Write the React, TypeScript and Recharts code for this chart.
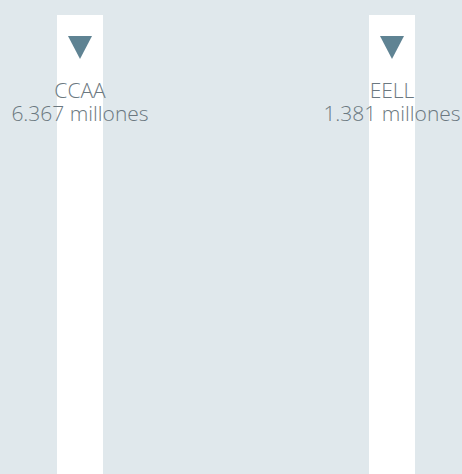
import React from 'react';
import { BarChart, Bar, XAxis, YAxis } from 'recharts';

const categories = ['CCAA', 'EELL'];
const values = [6367, 1381];
const valueLabels = ['6.367 millones', '1.381 millones'];

const data = categories.map((name, i) => ({ name, value: values[i] }));

const BG = '#e0e8ec';
const TRI = '#5f8393';
const TXT = '#6b7880';

const renderTick = (props: any) => {
  const { x, y, payload } = props;
  const i = categories.indexOf(payload.value);
  return (
    <g>
      <polygon points={`${x - 12},${y + 21} ${x + 12},${y + 21} ${x},${y + 44}`} fill={TRI} />
      <text x={x} y={y + 82.5} textAnchor="middle" fill={TXT} fontSize={21} fontWeight={300} fontFamily="'Open Sans', sans-serif">
        <tspan x={x} dy={0}>{payload.value}</tspan>
        <tspan x={x} dy={23.5}>{valueLabels[i]}</tspan>
      </text>
    </g>
  );
};

export default function App() {
  return (
    <div style={{ position: 'absolute', left: 0, top: 0, width: 462, height: 474, background: BG }}>
      <BarChart width={462} height={474} data={data} margin={{ top: 0, right: -86, left: -76, bottom: 0 }} barSize={46}>
        <XAxis dataKey="name" orientation="top" height={15} axisLine={false} tickLine={false} tickSize={0} tickMargin={0} interval={0} tick={renderTick} />
        <YAxis hide domain={[0, 7000]} />
        <Bar dataKey="value" fill="#ffffff" background={{ fill: '#ffffff' }} isAnimationActive={false} />
      </BarChart>
    </div>
  );
}
